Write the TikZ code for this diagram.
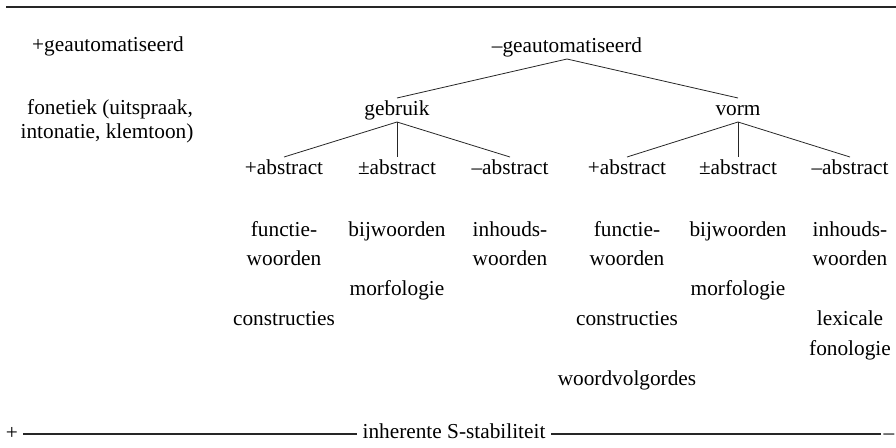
\documentclass[tikz,border=0pt]{standalone}
\usepackage{fontspec}
\setmainfont{Liberation Serif}
\tikzset{
  txt/.style={inner sep=0pt, outer sep=0pt, anchor=base, font=\fontsize{21.3}{24}\selectfont},
  tnode/.style={txt, text height=15pt, text depth=5pt, outer sep=2pt},
  branch/.style={line width=0.8pt, draw=black!85},
  rule/.style={line width=1.1pt, draw=black!85}
}
\begin{document}
\begin{tikzpicture}[x=1pt,y=-1pt]
\useasboundingbox (0,0) rectangle (896,447);
% top rule
\coordinate (tl) at (6,7);
\coordinate (tr) at (896,7);
\draw[rule] (tl) -- (tr);
% left column
\node[txt] (plusg) at (108,51) {+geautomatiseerd};
\node[txt] (fon1) at (110,114) {fonetiek (uitspraak,};
\node[txt] (fon2) at (107,138) {intonatie, klemtoon)};
% tree
\node[tnode] (ming) at (567,52) {–geautomatiseerd};
\node[tnode] (gebr) at (397,115) {gebruik};
\node[tnode] (vorm) at (738,115) {vorm};
\node[tnode] (g1) at (284,174) {+abstract};
\node[tnode] (g2) at (397,174) {±abstract};
\node[tnode] (g3) at (510,174) {–abstract};
\node[tnode] (v1) at (627,174) {+abstract};
\node[tnode] (v2) at (738,174) {±abstract};
\node[tnode] (v3) at (850,174) {–abstract};
\draw[branch] (ming.south) -- (gebr.north);
\draw[branch] (ming.south) -- (vorm.north);
\draw[branch] (gebr.south) -- (g1.north);
\draw[branch] (gebr.south) -- (g2.north);
\draw[branch] (gebr.south) -- (g3.north);
\draw[branch] (vorm.south) -- (v1.north);
\draw[branch] (vorm.south) -- (v2.north);
\draw[branch] (vorm.south) -- (v3.north);
% column texts, gebruik
\node[txt] (a1) at (284,236) {functie-};
\node[txt] (a2) at (284,265) {woorden};
\node[txt] (a3) at (284,325) {constructies};
\node[txt] (b1) at (397,236) {bijwoorden};
\node[txt] (b2) at (397,295) {morfologie};
\node[txt] (c1) at (510,236) {inhouds-};
\node[txt] (c2) at (510,265) {woorden};
% column texts, vorm
\node[txt] (d1) at (627,236) {functie-};
\node[txt] (d2) at (627,265) {woorden};
\node[txt] (d3) at (627,325) {constructies};
\node[txt] (d4) at (627,385) {woordvolgordes};
\node[txt] (e1) at (738,236) {bijwoorden};
\node[txt] (e2) at (738,295) {morfologie};
\node[txt] (f1) at (850,236) {inhouds-};
\node[txt] (f2) at (850,265) {woorden};
\node[txt] (f3) at (850,325) {lexicale};
\node[txt] (f4) at (850,355) {fonologie};
% bottom scale
\node[txt] (plus) at (12,439) {+};
\node[txt] (minus) at (889,439) {–};
\node[txt, outer sep=6pt] (lbl) at (454,438) {inherente S-stabiliteit};
\coordinate (bl) at (23,434);
\coordinate (br) at (881,434);
\draw[rule] (bl) -- (bl -| lbl.west);
\draw[rule] (lbl.east |- br) -- (br);
\end{tikzpicture}
\end{document}
